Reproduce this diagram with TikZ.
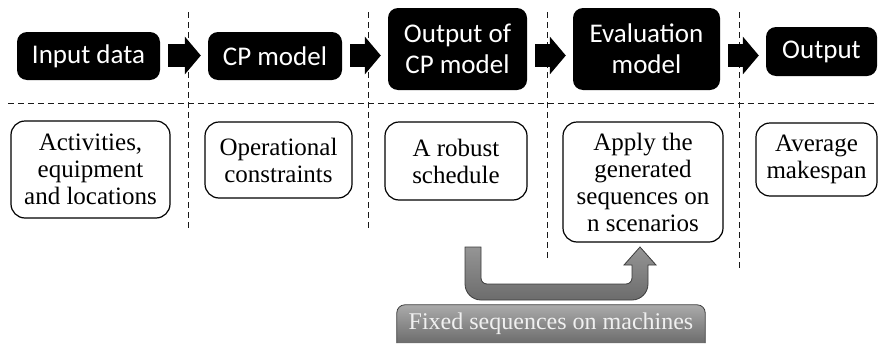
\documentclass[tikz,border=0pt]{standalone}
\usepackage{fontspec}
\setmainfont{Liberation Serif}
\newfontfamily\topfont{Carlito}
\usetikzlibrary{arrows.meta,backgrounds,calc}
\definecolor{ugraytop}{HTML}{959595}
\definecolor{ugraybot}{HTML}{6C6C6C}
\definecolor{uedge}{HTML}{3C3C3C}
\tikzset{
  blackbox/.style={fill=black, text=white, rounded corners=10pt, inner sep=0pt,
    align=center, font=\topfont\fontsize{27}{31}\selectfont},
  whitebox/.style={draw=black, line width=1.2pt, fill=white, rounded corners=14pt,
    inner sep=0pt, align=center, font=\fontsize{25}{27}\selectfont},
  blockarr/.style={line width=23pt, draw=black,
    -{Triangle[length=16pt,width=37pt]}, shorten <=8pt, shorten >=7pt},
  sepline/.style={draw=black!90, line width=1pt, dash pattern=on 6pt off 4pt},
  uarrow/.style={draw=uedge, line width=0.8pt, top color=ugraytop, bottom color=ugraybot},
  lblbox/.style={draw=uedge, line width=0.8pt, rounded corners=8pt,
    top color=ugraytop!80!white, bottom color=ugraybot},
}
\begin{document}
\begin{tikzpicture}[x=1pt,y=-1pt]
\useasboundingbox (0,0) rectangle (878,343);

% separators
\draw[sepline] (8,103) -- (878,103);
\draw[sepline] (188,12) -- (188,229);
\draw[sepline] (368,12) -- (368,231);
\draw[sepline] (547,12) -- (547,259);
\draw[sepline] (739,12) -- (739,270);

% top black boxes
\node[blackbox, minimum width=143pt, minimum height=48pt] (in) at (88.5,56) {Input data};
\node[blackbox, minimum width=134pt, minimum height=48pt] (cp) at (275,56) {CP model};
\node[blackbox, minimum width=139pt, minimum height=82pt] (ocp) at (457.5,49) {Output of\\CP model};
\node[blackbox, minimum width=147pt, minimum height=82pt] (ev) at (646.5,49) {Evaluation\\model};
\node[blackbox, minimum width=111pt, minimum height=49pt] (out) at (821.5,51.5) {Output};

% block arrows
\coordinate (ay) at (0,55.5);
\draw[blockarr] (in.east |- ay) -- (cp.west |- ay);
\draw[blockarr] (cp.east |- ay) -- (ocp.west |- ay);
\draw[blockarr] (ocp.east |- ay) -- (ev.west |- ay);
\draw[blockarr] (ev.east |- ay) -- (out.west |- ay);

% bottom white boxes
\node[whitebox, minimum width=159pt, minimum height=97pt] (act) at (90.5,169.5) {Activities,\\equipment\\and locations};
\node[whitebox, minimum width=147pt, minimum height=76pt] (op) at (278.5,160) {Operational\\constraints};
\node[whitebox, minimum width=142pt, minimum height=78pt] (rob) at (456,161) {A robust\\schedule};
\node[whitebox, minimum width=160pt, minimum height=120pt] (app) at (643,182) {Apply the\\generated\\sequences on\\n scenarios};
\node[whitebox, minimum width=121pt, minimum height=73pt] (avg) at (816.5,159.5) {Average\\makespan};

% U-shaped gray arrow
\path[uarrow] (465,247) -- (465,284)
  .. controls (465,292.8) and (472.2,300) .. (481,300)
  -- (632,300)
  .. controls (640.8,300) and (648,292.8) .. (648,284)
  -- (648,265) -- (656,265) -- (640,247) -- (624,265) -- (632,265)
  -- (632,278)
  .. controls (632,281.3) and (629.3,284) .. (626,284)
  -- (487,284)
  .. controls (483.7,284) and (481,281.3) .. (481,278)
  -- (481,247) -- cycle;

% label
\node[text=white!94!black, inner sep=0pt, minimum width=308pt, minimum height=38pt,
  font=\fontsize{24}{27}\selectfont] (fixed) at (551,324) {Fixed sequences on machines};
\begin{pgfonlayer}{background}
\path[lblbox] (fixed.south west) -- (fixed.north west) -- (fixed.north east) -- (fixed.south east);
\end{pgfonlayer}
\end{tikzpicture}
\end{document}
